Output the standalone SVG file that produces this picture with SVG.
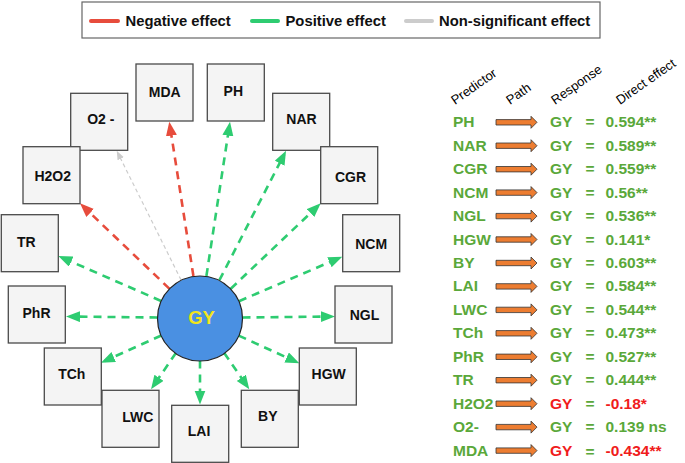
<svg xmlns="http://www.w3.org/2000/svg" xmlns:xlink="http://www.w3.org/1999/xlink" width="685" height="463" viewBox="0 0 685 463">
<style>
text{font-family:"Liberation Sans",Arial,sans-serif}
.leg{font-size:14.8px;font-weight:bold;fill:#111}
.box{fill:#f4f4f4;stroke:#4a4a4a;stroke-width:1.3}
.lbl{font-size:14px;font-weight:bold;fill:#111;text-anchor:middle}
.neg{stroke:#e74c3c;stroke-width:2.6;stroke-dasharray:8 6;fill:none}
.pos{stroke:#2ecc71;stroke-width:2.6;stroke-dasharray:8 6;fill:none}
.ns{stroke:#cccccc;stroke-width:1.2;stroke-dasharray:4 3;fill:none}
.hdr{font-size:13px;fill:#000}
.row{font-size:15.5px;font-weight:bold;fill:#5aa83a}
.red{fill:#f01c1c}
.eq{text-anchor:middle}
.parr{fill:#ed7d31;stroke:#333;stroke-width:0.8}
</style>
<defs>
<marker id="mr" markerUnits="userSpaceOnUse" markerWidth="14" markerHeight="12" refX="10" refY="5.5" orient="auto"><path d="M0,0 L14,5.5 L0,11 z" fill="#e74c3c"/></marker>
<marker id="mg" markerUnits="userSpaceOnUse" markerWidth="14" markerHeight="12" refX="10" refY="5.5" orient="auto"><path d="M0,0 L14,5.5 L0,11 z" fill="#2ecc71"/></marker>
<marker id="mn" markerUnits="userSpaceOnUse" markerWidth="9" markerHeight="8" refX="5" refY="3.5" orient="auto"><path d="M0,0 L9,3.5 L0,7 z" fill="#cccccc"/></marker>
<polygon id="pa" class="parr" points="496,-2.7 531,-2.7 531,-6 537,0 531,6 531,2.7 496,2.7"/>
</defs>

<g id="legend">
<rect x="82" y="2" width="518" height="36" fill="#fff" stroke="#666" stroke-width="1.2"/>
<line x1="91" y1="21" x2="118" y2="21" stroke="#e74c3c" stroke-width="4" stroke-linecap="round"/>
<text class="leg" x="125.5" y="26.3">Negative effect</text>
<line x1="252" y1="21" x2="278" y2="21" stroke="#2ecc71" stroke-width="4" stroke-linecap="round"/>
<text class="leg" x="285.5" y="26.3">Positive effect</text>
<line x1="406" y1="21" x2="432" y2="21" stroke="#cccccc" stroke-width="4" stroke-linecap="round"/>
<text class="leg" x="439" y="26.3">Non-significant effect</text>
</g>

<g id="connectors">
<line class="neg" x1="193.4" y1="276" x2="169.9" y2="125.7" marker-end="url(#mr)"/>
<line class="pos" x1="206.4" y1="276" x2="229.4" y2="125.7" marker-end="url(#mg)"/>
<line class="ns" x1="181.1" y1="280" x2="118.5" y2="154.3" marker-end="url(#mn)"/>
<line class="neg" x1="169.3" y1="288.6" x2="82.9" y2="206.1" marker-end="url(#mr)"/>
<line class="pos" x1="219.4" y1="280.2" x2="284.2" y2="154.3" marker-end="url(#mg)"/>
<line class="pos" x1="230.8" y1="288.7" x2="317.8" y2="206.1" marker-end="url(#mg)"/>
<line class="pos" x1="161.1" y1="301" x2="62" y2="257.6" marker-end="url(#mg)"/>
<line class="pos" x1="239" y1="301.2" x2="338.6" y2="258.3" marker-end="url(#mg)"/>
<line class="pos" x1="157.5" y1="317.5" x2="70" y2="316.5" marker-end="url(#mg)"/>
<line class="pos" x1="242.5" y1="317.5" x2="331" y2="316.5" marker-end="url(#mg)"/>
<line class="pos" x1="161.3" y1="335.5" x2="104.6" y2="361" marker-end="url(#mg)"/>
<line class="pos" x1="238.7" y1="335.6" x2="295.7" y2="361.6" marker-end="url(#mg)"/>
<line class="pos" x1="175.9" y1="353" x2="153.3" y2="386" marker-end="url(#mg)"/>
<line class="pos" x1="224.2" y1="353" x2="247" y2="386" marker-end="url(#mg)"/>
<line class="pos" x1="200" y1="360.5" x2="200" y2="400.5" marker-end="url(#mg)"/>
</g>

<g id="GY">
<circle cx="200" cy="318.5" r="42.5" fill="#4a90e2" stroke="#222" stroke-width="1.2"/>
<text x="201.5" y="323.5" text-anchor="middle" font-size="18.5" font-weight="bold" fill="#f2e51c">GY</text>
</g>

<g id="MDA"><rect class="box" x="136" y="64" width="57" height="57"/><text class="lbl" x="164.7" y="97">MDA</text></g>
<g id="PH"><rect class="box" x="207.3" y="64" width="57" height="57"/><text class="lbl" x="233.3" y="96">PH</text></g>
<g id="O2"><rect class="box" x="70.7" y="93.3" width="57" height="57"/><text class="lbl" x="100.8" y="124">O2 -</text></g>
<g id="NAR"><rect class="box" x="272.7" y="93.3" width="57" height="57"/><text class="lbl" x="301.5" y="124.3">NAR</text></g>
<g id="H2O2"><rect class="box" x="23" y="146.7" width="57" height="57"/><text class="lbl" x="52.7" y="180.5">H2O2</text></g>
<g id="CGR"><rect class="box" x="320.7" y="146.7" width="57" height="57"/><text class="lbl" x="350.5" y="182">CGR</text></g>
<g id="TR"><rect class="box" x="1.3" y="214.7" width="57" height="57"/><text class="lbl" x="26.3" y="246.5">TR</text></g>
<g id="NCM"><rect class="box" x="342.7" y="214.7" width="57" height="57"/><text class="lbl" x="371.2" y="249">NCM</text></g>
<g id="PhR"><rect class="box" x="8.3" y="286" width="57" height="57"/><text class="lbl" x="36.5" y="317.8">PhR</text></g>
<g id="NGL"><rect class="box" x="335" y="286" width="57" height="57"/><text class="lbl" x="364.5" y="320.3">NGL</text></g>
<g id="TCh"><rect class="box" x="44.3" y="348" width="57" height="57"/><text class="lbl" x="71.8" y="379">TCh</text></g>
<g id="HGW"><rect class="box" x="299.3" y="348" width="57" height="57"/><text class="lbl" x="328.7" y="379">HGW</text></g>
<g id="LWC"><rect class="box" x="102" y="390.3" width="57" height="57"/><text class="lbl" x="137.7" y="421.7">LWC</text></g>
<g id="BY"><rect class="box" x="241.3" y="390.3" width="57" height="57"/><text class="lbl" x="267.8" y="421.2">BY</text></g>
<g id="LAI"><rect class="box" x="171.7" y="405.3" width="57" height="57"/><text class="lbl" x="199" y="436.3">LAI</text></g>

<g id="table">
<text class="hdr" transform="translate(455,105) rotate(-35)">Predictor</text>
<text class="hdr" transform="translate(510,105) rotate(-35)">Path</text>
<text class="hdr" transform="translate(555,105) rotate(-35)">Response</text>
<text class="hdr" transform="translate(620,105) rotate(-35)">Direct effect</text>

<use xlink:href="#pa" transform="translate(0,122.3)"/>
<use xlink:href="#pa" transform="translate(0,145.7)"/>
<use xlink:href="#pa" transform="translate(0,169.2)"/>
<use xlink:href="#pa" transform="translate(0,192.6)"/>
<use xlink:href="#pa" transform="translate(0,216.1)"/>
<use xlink:href="#pa" transform="translate(0,239.5)"/>
<use xlink:href="#pa" transform="translate(0,263)"/>
<use xlink:href="#pa" transform="translate(0,286.4)"/>
<use xlink:href="#pa" transform="translate(0,309.9)"/>
<use xlink:href="#pa" transform="translate(0,333.3)"/>
<use xlink:href="#pa" transform="translate(0,356.8)"/>
<use xlink:href="#pa" transform="translate(0,380.2)"/>
<use xlink:href="#pa" transform="translate(0,403.7)"/>
<use xlink:href="#pa" transform="translate(0,427.1)"/>
<use xlink:href="#pa" transform="translate(0,450.6)"/>

<g class="row">
<text x="453" y="127.2">PH</text><text x="550" y="127.2">GY</text><text class="eq" x="590" y="127.2">=</text><text x="605.5" y="127.2">0.594**</text>
<text x="453" y="150.7">NAR</text><text x="550" y="150.7">GY</text><text class="eq" x="590" y="150.7">=</text><text x="605.5" y="150.7">0.589**</text>
<text x="453" y="174.1">CGR</text><text x="550" y="174.1">GY</text><text class="eq" x="590" y="174.1">=</text><text x="605.5" y="174.1">0.559**</text>
<text x="453" y="197.6">NCM</text><text x="550" y="197.6">GY</text><text class="eq" x="590" y="197.6">=</text><text x="605.5" y="197.6">0.56**</text>
<text x="453" y="221">NGL</text><text x="550" y="221">GY</text><text class="eq" x="590" y="221">=</text><text x="605.5" y="221">0.536**</text>
<text x="453" y="244.5">HGW</text><text x="550" y="244.5">GY</text><text class="eq" x="590" y="244.5">=</text><text x="605.5" y="244.5">0.141*</text>
<text x="453" y="267.9">BY</text><text x="550" y="267.9">GY</text><text class="eq" x="590" y="267.9">=</text><text x="605.5" y="267.9">0.603**</text>
<text x="453" y="291.4">LAI</text><text x="550" y="291.4">GY</text><text class="eq" x="590" y="291.4">=</text><text x="605.5" y="291.4">0.584**</text>
<text x="453" y="314.8">LWC</text><text x="550" y="314.8">GY</text><text class="eq" x="590" y="314.8">=</text><text x="605.5" y="314.8">0.544**</text>
<text x="453" y="338.3">TCh</text><text x="550" y="338.3">GY</text><text class="eq" x="590" y="338.3">=</text><text x="605.5" y="338.3">0.473**</text>
<text x="453" y="361.7">PhR</text><text x="550" y="361.7">GY</text><text class="eq" x="590" y="361.7">=</text><text x="605.5" y="361.7">0.527**</text>
<text x="453" y="385.2">TR</text><text x="550" y="385.2">GY</text><text class="eq" x="590" y="385.2">=</text><text x="605.5" y="385.2">0.444**</text>
<text x="453" y="408.6">H2O2</text><text class="red" x="550" y="408.6">GY</text><text class="eq" x="590" y="408.6">=</text><text class="red" x="605.5" y="408.6">-0.18*</text>
<text x="453" y="432.1">O2-</text><text x="550" y="432.1">GY</text><text class="eq" x="590" y="432.1">=</text><text x="605.5" y="432.1">0.139 ns</text>
<text x="453" y="455.5">MDA</text><text class="red" x="550" y="455.5">GY</text><text class="eq" x="590" y="456.5">=</text><text class="red" x="605.5" y="455.5">-0.434**</text>
</g>
</g>
</svg>
